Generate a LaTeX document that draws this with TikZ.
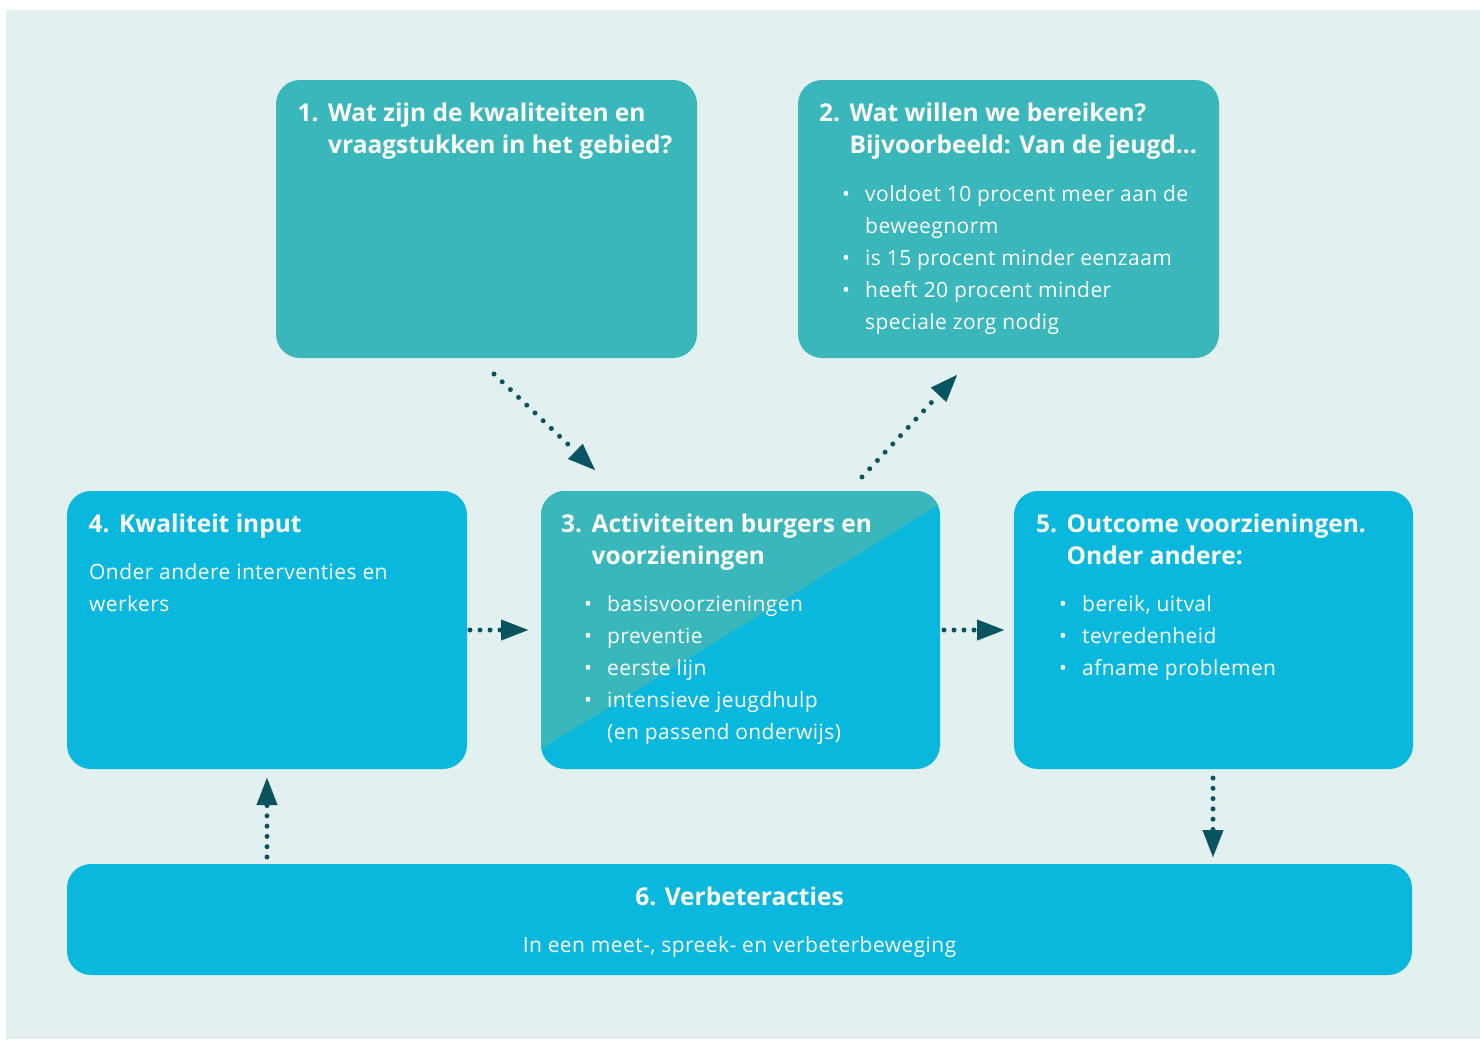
\documentclass[tikz,border=0pt]{standalone}
\usepackage{fontspec}
\setmainfont{Open Sans}
\newfontfamily\bodyfam[LetterSpace=2]{Open Sans}
\usetikzlibrary{arrows.meta,calc}
\definecolor{bgc}{HTML}{E2F0F0}
\definecolor{tealc}{HTML}{3AB7BA}
\definecolor{cyanc}{HTML}{09B8DC}
\definecolor{arrc}{HTML}{0A5462}
\newcommand\ttlfont{\fontsize{24.5}{32}\selectfont\bfseries}
\newcommand\bodyfont{\bodyfam\fontsize{21}{32}\selectfont}
\newcommand\numbox[1]{\makebox[30.5pt][l]{#1}}
\newcommand\numskip{\hspace*{30.5pt}}
\newcommand\bul{\makebox[23pt][l]{•}}
\newcommand\bulskip{\hspace*{23pt}}
\begin{document}
\begin{tikzpicture}[x=1pt,y=-1pt,
  box/.style={rounded corners=24pt, inner sep=0pt, outer sep=0pt, anchor=north west, draw=none, minimum height=278pt},
  ttl/.style={text=white, inner sep=0pt, anchor=base west, font=\ttlfont},
  bdy/.style={text=white, inner sep=0pt, anchor=base west, font=\bodyfont},
  dotarr/.style={draw=arrc, line width=5pt, line cap=round, dash pattern=on 0pt off #1,
     -{Triangle[length=27pt,width=21pt,line width=0.1pt]}},
  dotarr/.default=10pt]
\useasboundingbox (0,0) rectangle (1480,1039);
\fill[white] (0,0) rectangle (1480,1039);
\fill[bgc] (6,10) rectangle (1480,1039);

% boxes
\node[box, fill=tealc, minimum width=421pt] (b1) at (276,80) {};
\node[box, fill=tealc, minimum width=421pt] (b2) at (798,80) {};
\node[box, fill=cyanc, minimum width=400pt] (b4) at (67,491) {};
\node[box, fill=cyanc, minimum width=399pt] (b3) at (541,491) {};
\node[box, fill=cyanc, minimum width=399pt] (b5) at (1014,491) {};
\node[box, fill=cyanc, minimum width=1345pt, minimum height=111pt] (b6) at (67,864) {};

% diagonal split of box 3
\begin{scope}
  \clip[rounded corners=24pt] (b3.north west) rectangle (b3.south east);
  \fill[tealc] (b3.north west) -- ($(b3.north west)+(0,258)$) -- ($(b3.north east)+(0,13)$) -- (b3.north east) -- cycle;
\end{scope}

% texts
\node[ttl] (t1) at (297.5,121) {\begin{tabular}[t]{@{}l@{}}\numbox{1.}Wat zijn de kwaliteiten en\\\numskip vraagstukken in het gebied?\end{tabular}};

\node[ttl] (t2) at (819,121) {\begin{tabular}[t]{@{}l@{}}\numbox{2.}Wat willen we bereiken?\\\numskip Bijvoorbeeld: Van de jeugd...\end{tabular}};
\node[bdy] (l2) at (842,201) {\begin{tabular}[t]{@{}l@{}}\bul voldoet 10 procent meer aan de\\\bulskip beweegnorm\\\bul is 15 procent minder eenzaam\\\bul heeft 20 procent minder\\\bulskip speciale zorg nodig\end{tabular}};

\node[ttl] (t4) at (88.5,532) {\begin{tabular}[t]{@{}l@{}}\numbox{4.}Kwaliteit input\end{tabular}};
\node[bdy] (l4) at (89,579) {\begin{tabular}[t]{@{}l@{}}Onder andere interventies en\\werkers\end{tabular}};

\node[ttl] (t3) at (561,532) {\begin{tabular}[t]{@{}l@{}}\numbox{3.}Activiteiten burgers en\\\numskip voorzieningen\end{tabular}};
\node[bdy] (l3) at (584,611) {\begin{tabular}[t]{@{}l@{}}\bul basisvoorzieningen\\\bul preventie\\\bul eerste lijn\\\bul intensieve jeugdhulp\\\bulskip (en passend onderwijs)\end{tabular}};

\node[ttl] (t5) at (1036,532) {\begin{tabular}[t]{@{}l@{}}\numbox{5.}Outcome voorzieningen.\\\numskip Onder andere:\end{tabular}};
\node[bdy] (l5) at (1059,611) {\begin{tabular}[t]{@{}l@{}}\bul bereik, uitval\\\bul tevredenheid\\\bul afname problemen\end{tabular}};

\node[ttl, anchor=base] (t6) at (739.5,905) {6. Verbeteracties};
\node[bdy, anchor=base] (l6) at (739.5,952) {In een meet-, spreek- en verbeterbeweging};

% arrow end points
\coordinate (a13s) at (494,374);
\coordinate (a13e) at (595,470);
\coordinate (a32s) at (862,477);
\coordinate (a32e) at (957,375);
\coordinate (a43s) at (470,630);
\coordinate (a43e) at (528,630);
\coordinate (a35s) at (944,630);
\coordinate (a35e) at (1004,630);
\coordinate (a56s) at (1213,778);
\coordinate (a56e) at (1213,857);
\coordinate (a64s) at (267,857);
\coordinate (a64e) at (267,778);

\draw[dotarr=11.3pt] (a13s) -- (a13e);
\draw[dotarr=11.3pt] (a32s) -- (a32e);
\draw[dotarr] (a43s) -- (a43e);
\draw[dotarr] (a35s) -- (a35e);
\draw[dotarr=10.3pt] (a56s) -- (a56e);
\draw[dotarr=10.3pt] (a64s) -- (a64e);
\end{tikzpicture}
\end{document}
